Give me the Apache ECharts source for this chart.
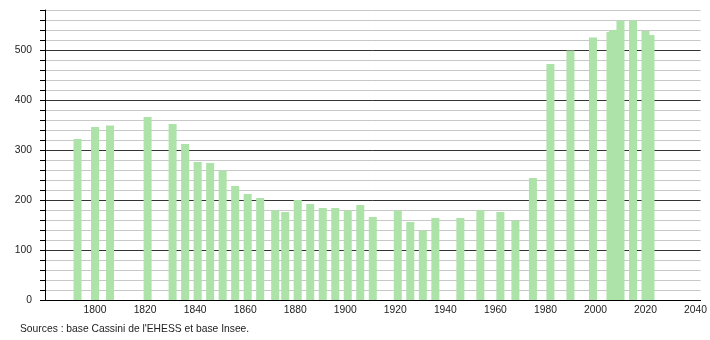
<!DOCTYPE html>
<html>
<head>
<meta charset="utf-8">
<script src="https://cdn.jsdelivr.net/npm/echarts@6/dist/echarts.min.js"></script>
<style>
html,body{margin:0;padding:0;background:#fff;}
#chart{width:710px;height:340px;}
</style>
</head>
<body>
<div id="chart"></div>
<script>
var years = [1793,1800,1806,1821,1831,1836,1841,1846,1851,1856,1861,1866,1872,1876,1881,1886,1891,1896,1901,1906,1911,1921,1926,1931,1936,1946,1954,1962,1968,1975,1982,1990,1999,2006,2007,2010,2015,2020,2022];
var population = [322,346,349,366,352,312,276,274,259,228,212,204,179,176,200,192,184,184,179,190,166,179,156,139,164,164,180,176,159,244,472,499,525,536,540,559,559,538,530];
var sourceText = "Sources : base Cassini de l'EHESS et base Insee.";

var chart = echarts.init(document.getElementById('chart'));
var data = years.map(function(y,i){return [y, population[i]];});
var font = 'Liberation Sans, Arial, sans-serif';
chart.setOption({
  animation:false,
  grid:{left:45,right:8,top:10,bottom:40},
  xAxis:{
    type:'value',min:1780,max:2042,interval:20,
    axisLine:{show:true,lineStyle:{color:'#000',width:1}},
    axisTick:{show:false},
    splitLine:{show:false},
    axisLabel:{color:'#222',fontFamily:font,fontSize:10.3,margin:5,
      showMaxLabel:false,
      formatter:function(v){return (v>1780 && v%20===0)?String(v):'';}}
  },
  yAxis:{
    type:'value',min:0,max:580,interval:20,
    axisLine:{show:true,lineStyle:{color:'#000',width:1}},
    axisTick:{show:true,length:5,lineStyle:{color:'#000'}},
    splitLine:{show:true,lineStyle:{color:['#333','#c8c8c8','#c8c8c8','#c8c8c8','#c8c8c8'],width:1}},
    axisLabel:{color:'#222',fontFamily:font,fontSize:10.3,margin:13,
      formatter:function(v){return v%100===0?String(v):'';}}
  },
  series:[{
    type:'bar',data:data,barWidth:8,
    itemStyle:{color:'#ade3a8'}
  }],
  graphic:[{type:'text',left:20,top:324,style:{text:sourceText,fill:'#222',font:'10.3px '+font}}]
});
</script>
</body>
</html>
